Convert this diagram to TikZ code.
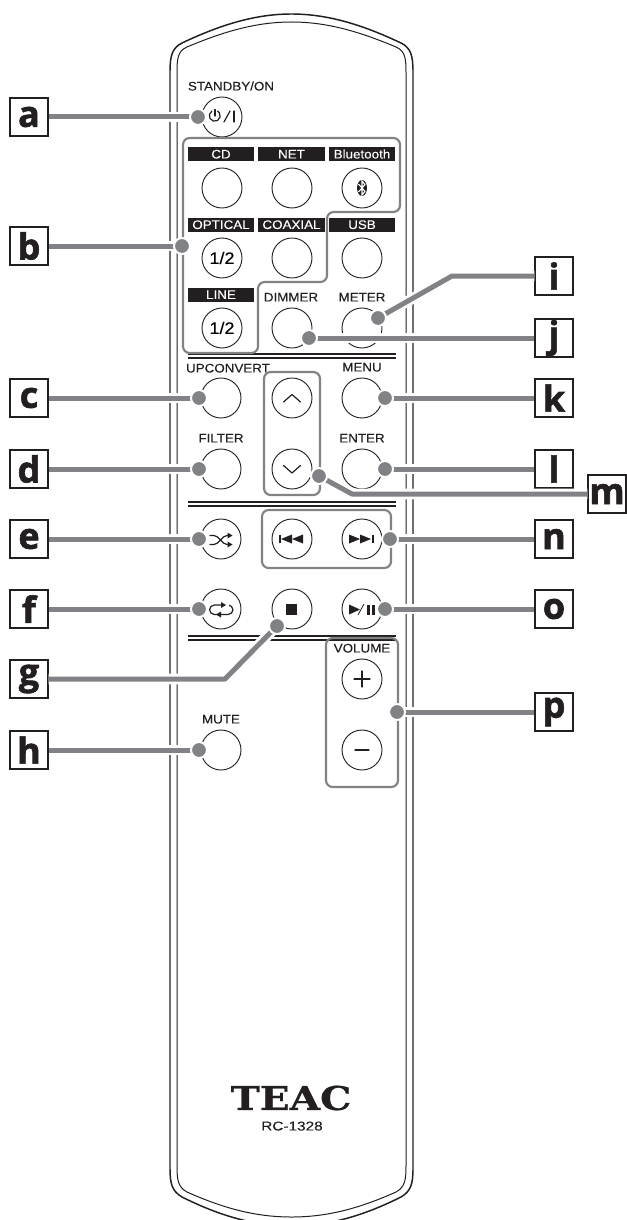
\documentclass[tikz,border=0pt]{standalone}
\usepackage{fontspec}
\setmainfont{Liberation Sans}
\newfontfamily\lblfont[FakeStretch=1.08,FakeBold=0.15]{Liberation Sans}
\newfontfamily\letterfont[FakeBold=1.6]{Open Sans Bold}
\newfontfamily\brandfont[FakeStretch=1.2,FakeBold=0.7]{DejaVu Serif Bold}
\newfontfamily\modelfont[FakeStretch=1.2,FakeBold=0.15]{Liberation Sans}
\definecolor{gr}{HTML}{808285}
\definecolor{ink}{HTML}{231F20}
\tikzset{
  x=0.75pt,y=-0.75pt,
  body/.style={draw=ink,line width=1.1pt},
  btn/.style={circle,draw=ink,line width=0.7pt,minimum size=30pt,inner sep=0pt,font=\fontsize{12.5pt}{12.5pt}\selectfont\lblfont},
  grp/.style={draw=gr,line width=1.6pt,rounded corners=5pt},
  lbl/.style={inner sep=0pt,text=ink,font=\fontsize{9.3pt}{9.3pt}\selectfont\lblfont,text height=6.7pt,text depth=0pt},
  bar/.style={fill=ink,text=white,inner sep=0pt,minimum height=10.5pt,font=\fontsize{9.3pt}{9.3pt}\selectfont\lblfont,text height=6.7pt,text depth=0pt},
  keybox/.style={draw=ink,fill=white,line width=0.9pt,minimum size=28.5pt,inner sep=0pt,text=ink,font=\fontsize{27pt}{27pt}\selectfont\letterfont},
  conn/.style={draw=gr,line width=3.75pt,preaction={draw=white,line width=8pt}},
  hub/.style={circle,fill=gr,draw=white,line width=1.5pt,minimum size=12pt,inner sep=0pt},
  rule/.style={draw=ink,line width=1pt},
  icon/.style={draw=ink,line width=0.9pt,line cap=round,line join=round},
  iconf/.style={fill=ink,draw=none},
}
\begin{document}
\begin{tikzpicture}
\clip (0,0) rectangle (627,1220);
\fill[white] (0,0) rectangle (627,1220);
% body
\draw[body] (170,72) .. controls (170,56) and (172,48) .. (182,43) .. controls (220,25) and (255,14) .. (291.5,14) .. controls (328,14) and (363,25) .. (401,43) .. controls (411,48) and (413,56) .. (413,72) -- (413,1168) .. controls (413,1184) and (411,1191) .. (401,1197) .. controls (363,1216) and (328,1226) .. (291.5,1226) .. controls (255,1226) and (220,1216) .. (182,1197) .. controls (172,1191) and (170,1184) .. (170,1168) -- cycle;
\draw[draw=ink,line width=0.75pt] (177,72) .. controls (177,58) and (178,51) .. (187,47) .. controls (225,31) and (257,22) .. (291.5,22) .. controls (326,22) and (358,31) .. (396,47) .. controls (405,51) and (406,58) .. (406,72) -- (406,1166) .. controls (406,1180) and (405,1187) .. (396,1192) .. controls (358,1209) and (326,1217) .. (291.5,1217) .. controls (257,1217) and (225,1209) .. (187,1192) .. controls (178,1187) and (177,1180) .. (177,1166) -- cycle;
% rules
\foreach \yy in {354,358,502,506,636,640} \draw[rule] (188,\yy) -- (396,\yy);
% buttons
\node[btn] (power) at (222,117) {};
\node[btn] (cd) at (222,188) {};
\node[btn] (net) at (292,188) {};
\node[btn] (bt) at (362,188) {};
\node[btn] (optical) at (222,258) {1/2};
\node[btn] (coaxial) at (292,258) {};
\node[btn] (usb) at (362,258) {};
\node[btn] (line) at (222,328) {1/2};
\node[btn] (dimmer) at (292,328) {};
\node[btn] (meter) at (362,328) {};
\node[btn] (upconv) at (221,398) {};
\node[btn] (up) at (292,398) {};
\node[btn] (menu) at (362,398) {};
\node[btn] (filter) at (221,469) {};
\node[btn] (down) at (292,469) {};
\node[btn] (enter) at (362,469) {};
\node[btn] (shuffle) at (221,539) {};
\node[btn] (prev) at (292,539) {};
\node[btn] (next) at (362,539) {};
\node[btn] (repeat) at (221,609) {};
\node[btn] (stop) at (292,609) {};
\node[btn] (play) at (362,609) {};
\node[btn] (plus) at (362,679) {};
\node[btn] (minus) at (362,750) {};
\node[btn] (mute) at (221,750) {};
% labels
\node[lbl] (tstandby) at (231,86) {STANDBY/ON};
\node[bar,minimum width=50pt] (tcd) at (221,154) {CD};
\node[bar,minimum width=50pt] (tnet) at (291.5,154) {NET};
\node[bar,minimum width=50pt] (tbt) at (362,154) {Bluetooth};
\node[bar,minimum width=50pt] (topt) at (221,224.5) {OPTICAL};
\node[bar,minimum width=50pt] (tcoax) at (291.5,224.5) {COAXIAL};
\node[bar,minimum width=50pt] (tusb) at (362,224.5) {USB};
\node[bar,minimum width=50pt] (tline) at (221,294.5) {LINE};
\node[lbl] (tdim) at (291,297) {DIMMER};
\node[lbl] (tmeter) at (362,297) {METER};
\node[lbl] (tupc) at (228,368) {UPCONVERT};
\node[lbl] (tmenu) at (362,367) {MENU};
\node[lbl] (tfilter) at (221,438) {FILTER};
\node[lbl] (tenter) at (362,438) {ENTER};
\node[lbl] (tvol) at (362,648) {VOLUME};
\node[lbl] (tmute) at (221,719) {MUTE};
\node[inner sep=0pt,text=ink,font=\fontsize{24.5pt}{24.5pt}\selectfont\brandfont] (teac) at (291,1098) {TEAC};
\node[lbl,font=\fontsize{9.6pt}{9.6pt}\selectfont\modelfont] (model) at (292,1126) {RC-1328};
% icons
\draw[icon] (212,111) arc[start angle=240,end angle=-60,radius=5.5] ;
\draw[icon] (215,109.5) -- (215,116);
\draw[icon] (224,122) -- (230,111);
\draw[icon] (234,111) -- (234,122);
\fill[ink] (362,188) ellipse [x radius=5,y radius=8];
\draw[white,line width=0.8pt,line join=miter] (358.5,184) -- (365,191.5) -- (362,195) -- (362,181) -- (365,184.5) -- (358.5,192);
\draw[icon] (283.5,402) -- (292,394.5) -- (300.5,402);
\draw[icon] (283.5,465.5) -- (292,473) -- (300.5,465.5);
% shuffle
\draw[icon] (210,535.5) -- (214,535.5) .. controls (219,535.5) and (222,544.5) .. (227,544.5) -- (229,544.5);
\draw[icon] (210,544.5) -- (214,544.5) .. controls (219,544.5) and (222,535.5) .. (227,535.5) -- (229,535.5);
\fill[ink] (232.5,535.5) -- (227.5,532.5) -- (227.5,538.5) -- cycle;
\fill[ink] (232.5,544.5) -- (227.5,541.5) -- (227.5,547.5) -- cycle;
% repeat
\draw[icon,rounded corners=3.7pt] (224,605) -- (209.5,605) -- (209.5,614.5) -- (233,614.5) -- (233,605) -- (229,605);
\fill[ink] (226,605) -- (221,602) -- (221,608) -- cycle;
\fill[white] (226,603.5) rectangle (228.5,606.5);
\fill[ink] (216,614.5) -- (221,611.5) -- (221,617.5) -- cycle;
% prev / next
\fill[ink] (279,535) rectangle (281,543);
\fill[ink] (281,539) -- (292,534.5) -- (292,543.5) -- cycle;
\fill[ink] (292,539) -- (303,534.5) -- (303,543.5) -- cycle;
\fill[ink] (349,534.5) -- (360,539) -- (349,543.5) -- cycle;
\fill[ink] (360,534.5) -- (371,539) -- (360,543.5) -- cycle;
\fill[ink] (371.5,535) rectangle (373.5,543);
% stop, play
\fill[ink] (286,604) rectangle (297,615);
\fill[ink] (349,604.5) -- (360,609.5) -- (349,614.5) -- cycle;
\draw[ink,line width=0.6pt] (358,615) -- (364,604);
\fill[ink] (367,604.5) rectangle (370,614.5);
\fill[ink] (372,604.5) rectangle (375,614.5);
% plus, minus
\draw[icon] (354,679) -- (370,679);
\draw[icon] (362,671) -- (362,687);
\draw[icon] (355,750) -- (369,750);
% groups
\draw[grp] (183,138) -- (400,138) -- (400,212) -- (327,212) -- (327,282) -- (258,282) -- (258,353) -- (183,353) -- cycle;
\draw[grp] (264,372) rectangle (320,495);
\draw[grp] (262,510) rectangle (391,568);
\draw[grp] (326,638) rectangle (398,787);
% key boxes
\node[keybox] (ka) at (29,117) {a};
\node[keybox] (kb) at (29,246) {b};
\node[keybox] (kc) at (29,398) {c};
\node[keybox] (kd) at (29,469) {d};
\node[keybox] (ke) at (29,539) {e};
\node[keybox] (kf) at (29,609) {f};
\node[keybox] (kg) at (29,679) {g};
\node[keybox] (kh) at (29,750) {h};
\node[keybox] (ki) at (554,276) {i};
\node[keybox] (kj) at (554,338) {j};
\node[keybox] (kk) at (554,398) {k};
\node[keybox] (kl) at (554,469) {l};
\node[keybox] (km) at (607,494) {m};
\node[keybox] (kn) at (554,539) {n};
\node[keybox] (ko) at (554,609) {o};
\node[keybox] (kp) at (554,712) {p};
% hubs and connectors
\coordinate (ha) at (198,117);
\coordinate (hb) at (182,246);
\coordinate (hc) at (199,398);
\coordinate (hd) at (199,469);
\coordinate (he) at (199,539);
\coordinate (hf) at (199,609);
\coordinate (hg) at (277,626);
\coordinate (hh) at (199,750);
\coordinate (hi) at (378,318);
\coordinate (hj) at (309,338);
\coordinate (hk) at (385,398);
\coordinate (hl) at (385,469);
\coordinate (hm) at (319,476);
\coordinate (hn) at (390,539);
\coordinate (ho) at (385,609);
\coordinate (hp) at (397,712);
\draw[conn] (ha) -- (ka.east);
\draw[conn] (hb) -- (kb.east);
\draw[conn] (hc) -- (kc.east);
\draw[conn] (hd) -- (kd.east);
\draw[conn] (he) -- (ke.east);
\draw[conn] (hf) -- (kf.east);
\draw[conn,line join=round] (hg) -- (225,679) -- (kg.east);
\draw[conn] (hh) -- (kh.east);
\draw[conn,line join=round] (hi) -- (452,276) -- (ki.west);
\draw[conn] (hj) -- (kj.west);
\draw[conn] (hk) -- (kk.west);
\draw[conn] (hl) -- (kl.west);
\draw[conn,line join=round] (hm) -- (352,494) -- (km.west);
\draw[conn] (hn) -- (kn.west);
\draw[conn] (ho) -- (ko.west);
\draw[conn] (hp) -- (kp.west);
\foreach \h in {ha,hb,hc,hd,he,hf,hg,hh,hi,hj,hk,hl,hm,hn,ho,hp} \node[hub] (n\h) at (\h) {};
\end{tikzpicture}
\end{document}
